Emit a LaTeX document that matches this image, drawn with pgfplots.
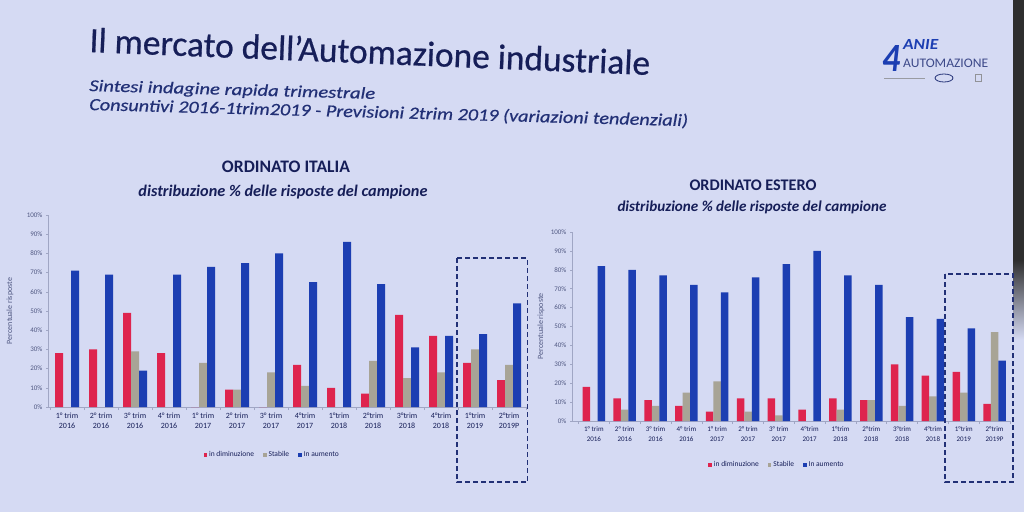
\documentclass[border=0pt]{standalone}
\usepackage{fontspec}
\setmainfont{Carlito}
\newfontfamily\heavyfont[FakeBold=0.6]{Carlito}
\usepackage{graphicx}
\usepackage{pgfplots}
\usepackage{pgfplotstable}
\pgfplotsset{compat=1.18}

\definecolor{bg}{RGB}{213,218,243}
\definecolor{cred}{RGB}{222,36,78}
\definecolor{cgray}{RGB}{168,164,150}
\definecolor{cblue}{RGB}{28,62,178}
\definecolor{navy}{RGB}{22,30,88}
\definecolor{subnavy}{RGB}{34,48,118}
\definecolor{tickc}{RGB}{80,88,130}
\definecolor{axc}{RGB}{160,166,196}

\pgfplotstableread{
idx red gray blue
0 28 0 71
1 30 0 69
2 49 29 19
3 28 0 69
4 0 23 73
5 9 9 75
6 0 18 80
7 22 11 65
8 10 0 86
9 7 24 64
10 48 15 31
11 37 18 37
12 23 30 38
13 14 22 54
}\italia

\pgfplotstableread{
idx red gray blue
0 18 0 82
1 12 6 80
2 11 8 77
3 8 15 72
4 5 21 68
5 12 5 76
6 12 3 83
7 6 0 90
8 12 6 77
9 11 11 72
10 30 8 55
11 24 13 54
12 26 15 49
13 9 47 32
}\estero

\pgfplotsset{
  sq legend/.style={legend image code/.code={\fill[##1] (0pt,-1.8pt) rectangle (3.6pt,1.8pt);}},
  slide/.style={
    scale only axis, ybar=0pt, ymin=0, ymax=100,
    axis x line*=bottom, axis y line*=left,
    axis line style={-, draw=axc, line width=0.6pt},
    ytick={0,10,...,100},
    yticklabel={\pgfmathprintnumber{\tick}\%},
    /pgf/number format/assume math mode=true,
    yticklabel style={font=\fontsize{7}{8}\selectfont, text=tickc},
    xtick={0,...,13},
    xticklabels={{1° trim\\2016},{2° trim\\2016},{3° trim\\2016},{4° trim\\2016},{1° trim\\2017},{2° trim\\2017},{3° trim\\2017},{4°trim\\2017},{1°trim\\2018},{2°trim\\2018},{3°trim\\2018},{4°trim\\2018},{1°trim\\2019},{2°trim\\2019P}},
    xticklabel style={align=center, text=navy},
    minor xtick={-0.5,0.5,...,13.5},
    major x tick style={draw=none},
    minor x tick style={draw=axc, line width=0.5pt},
    y tick style={draw=axc, line width=0.5pt},
    major tick length=2pt, minor tick length=3pt,
    tick align=outside,
    ylabel={Percentuale risposte},
    ylabel style={font=\fontsize{8}{9}\selectfont, text=tickc},
    legend columns=3,
    legend style={draw=none, fill=none, font=\fontsize{7.5}{8}\selectfont, text=navy,
      /tikz/every even column/.append style={column sep=7pt}},
  }
}

\begin{document}
\begin{tikzpicture}[x=1pt,y=1pt]
\fill[bg] (0,0) rectangle (1024,512);
\useasboundingbox (0,0) rectangle (1024,512);
% dark screen edge
\fill[black!82] (1013,252) rectangle (1024,512);
\shade[top color=black!82, bottom color=bg] (1013,172) rectangle (1024,252);

% titles
\node[anchor=base west, rotate=-2.35, inner sep=0, text=navy] at (89,460)
  {\resizebox{561pt}{!}{\heavyfont\fontsize{34}{34}\selectfont Il mercato dell’Automazione industriale}};
\node[anchor=base west, rotate=-1.6, inner sep=0, text=subnavy] at (89,421)
  {\resizebox{286pt}{11.5pt}{\heavyfont\fontsize{18}{18}\selectfont\itshape Sintesi indagine rapida trimestrale}};
\node[anchor=base west, rotate=-1.55, inner sep=0, text=subnavy] at (89,402)
  {\resizebox{599pt}{12.5pt}{\heavyfont\fontsize{18}{18}\selectfont\itshape Consuntivi 2016-1trim2019 - Previsioni 2trim 2019 (variazioni tendenziali)}};

% logo
\node[anchor=west, text=cblue, inner sep=0] at (882,453)
  {\resizebox{18pt}{26pt}{\bfseries\itshape 4}};
\node[anchor=west, inner sep=0, text=cblue] at (903,467)
  {\resizebox{35pt}{10pt}{\bfseries\itshape ANIE}};
\node[anchor=west, inner sep=0, text=subnavy!85!bg] at (903,449)
  {\resizebox{85pt}{8.5pt}{AUTOMAZIONE}};
\draw[gray!70!bg, line width=0.8pt] (884,434) -- (925,434);
\draw[subnavy, line width=0.8pt] (944,434) ellipse (9 and 4);
\draw[gray!80!bg, line width=0.8pt] (975,431) rectangle (981,438);

% chart titles
\node[text=navy] at (286,345) {\resizebox{128pt}{!}{\bfseries ORDINATO ITALIA}};
\node[text=navy] at (283,320) {\resizebox{289pt}{!}{\bfseries\itshape distribuzione \% delle risposte del campione}};
\node[text=navy] at (753,327) {\resizebox{127pt}{!}{\bfseries ORDINATO ESTERO}};
\node[text=navy] at (752,305) {\resizebox{269pt}{!}{\bfseries\itshape distribuzione \% delle risposte del campione}};

% left chart
\begin{axis}[slide,
  at={(48pt,105pt)}, anchor=south west,
  width=478pt, height=192pt,
  xmin=-0.56, xmax=13.5,
  bar width=8pt,
  xticklabel style={font=\fontsize{8}{10.5}\selectfont},
  ylabel style={at={(rel axis cs:-0.0795,0.5)}, anchor=center, rotate=0},
  legend style={at={(0.469,-0.25)}, anchor=center},
]
\addplot[fill=cred, draw=none, sq legend] table[x=idx, y=red] {\italia};
\addplot[fill=cgray, draw=none, sq legend] table[x=idx, y=gray] {\italia};
\addplot[fill=cblue, draw=none, sq legend] table[x=idx, y=blue] {\italia};
\legend{in diminuzione, Stabile, In aumento}
\end{axis}

% right chart
\begin{axis}[slide,
  at={(572pt,91pt)}, anchor=south west,
  width=438pt, height=189pt,
  xmin=-0.71, xmax=13.5,
  bar width=7.5pt,
  xticklabel style={font=\fontsize{7}{10.5}\selectfont},
  ylabel style={at={(rel axis cs:-0.0708,0.5)}, anchor=center, rotate=0},
  legend style={at={(0.468,-0.233)}, anchor=center},
]
\addplot[fill=cred, draw=none, sq legend] table[x=idx, y=red] {\estero};
\addplot[fill=cgray, draw=none, sq legend] table[x=idx, y=gray] {\estero};
\addplot[fill=cblue, draw=none, sq legend] table[x=idx, y=blue] {\estero};
\legend{in diminuzione, Stabile, In aumento}
\end{axis}

% dashed highlight boxes
\draw[subnavy, line width=1.8pt, dash pattern=on 5pt off 3pt] (457,254) rectangle (527.5,30);
\draw[subnavy, line width=1.8pt, dash pattern=on 5pt off 3pt] (945,238) rectangle (1013,30);
\end{tikzpicture}
\end{document}
